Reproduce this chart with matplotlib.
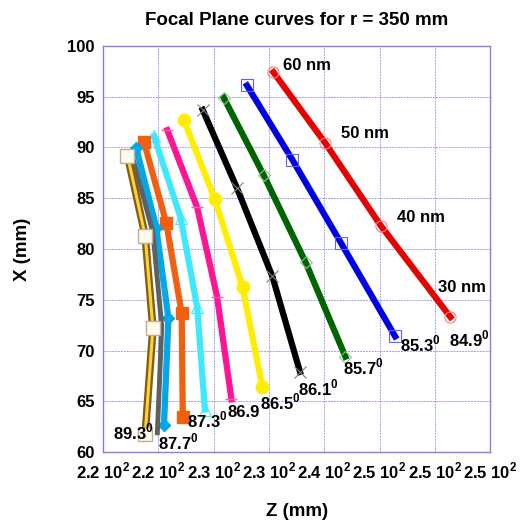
import numpy as np
import matplotlib.pyplot as plt

plt.rcParams['font.family'] = ['Liberation Sans', 'DejaVu Sans']
plt.rcParams['mathtext.fontset'] = 'custom'
plt.rcParams['mathtext.rm'] = 'Liberation Sans:bold'
plt.rcParams['mathtext.bf'] = 'Liberation Sans:bold'

# Z (mm), X (mm) for each curve, top to bottom (60 nm -> 30 nm)
z_849 = [235.4, 240.1, 245.1, 251.4]
x_849 = [97.4, 90.4, 82.3, 73.3]
z_853 = [233.0, 237.1, 241.5, 246.4]
x_853 = [96.1, 88.8, 80.6, 71.4]
z_857 = [230.9, 234.5, 238.3, 241.9]
x_857 = [94.9, 87.3, 78.7, 69.4]
z_861 = [229.0, 232.1, 235.3, 237.8]
x_861 = [93.7, 86.0, 77.3, 67.9]
z_865 = [227.3, 230.1, 232.6, 234.4]
x_865 = [92.7, 84.9, 76.3, 66.4]
z_869 = [225.8, 228.5, 230.3, 231.6]
x_869 = [91.7, 84.1, 75.3, 65.2]
z_873 = [224.6, 227.0, 228.5, 229.2]
x_873 = [91.1, 83.1, 74.3, 64.2]
z_877 = [223.7, 225.7, 227.1, 227.2]
x_877 = [90.5, 82.6, 73.7, 63.5]
z_881 = [223.0, 224.8, 225.9, 225.5]
x_881 = [89.9, 82.1, 73.2, 62.7]
z_885 = [222.6, 224.5, 225.3, 224.9]
x_885 = [89.3, 81.6, 72.4, 61.9]
z_889 = [222.2, 223.8, 224.5, 223.8]
x_889 = [89.2, 81.3, 72.2, 61.8]

wave_labels = ['60 nm', '50 nm', '40 nm', '30 nm']
wave_pos = [(236.3, 98.1), (241.5, 91.4), (246.6, 83.1), (250.3, 76.2)]
angle_labels = ['84.9$^0$', '85.3$^0$', '85.7$^0$', '86.1$^0$', '86.5$^0$',
                '86.9', '87.3$^0$', '87.7$^0$', '89.3$^0$']
angle_pos = [(251.3, 71.1), (246.8, 70.6), (241.7, 68.4), (237.6, 66.3),
             (234.2, 64.9), (231.2, 63.9), (227.6, 63.2), (225.0, 61.0),
             (220.9, 62.0)]

xticks = [220, 225, 230, 235, 240, 245, 250, 255]
xtick_labels = ['2.2 10$^2$', '2.2 10$^2$', '2.3 10$^2$', '2.3 10$^2$',
                '2.4 10$^2$', '2.5 10$^2$', '2.5 10$^2$', '2.5 10$^2$']
yticks = [60, 65, 70, 75, 80, 85, 90, 95, 100]

fig = plt.figure(figsize=(5.21, 5.27), dpi=100)
ax = fig.add_axes([0.198, 0.142, 0.743, 0.771])

lw = 4.5
ax.plot(z_849, x_849, color='#e60000', lw=lw, marker='o', ms=8, mfc='none', mec='#ff8080', mew=0.8)
ax.plot(z_853, x_853, color='#0000e6', lw=lw, marker='s', ms=8, mfc='none', mec='#6060ff', mew=0.8)
ax.plot(z_857, x_857, color='#006400', lw=lw, marker='D', ms=6, mfc='none', mec='#90c090', mew=0.8)
ax.plot(z_861, x_861, color='black', lw=lw, marker='x', ms=9, mec='#808080', mew=0.8)
ax.plot(z_865, x_865, color='#ffee00', lw=lw, marker='o', ms=9, mfc='#ffee00', mec='#ffee00')
ax.plot(z_869, x_869, color='#ff1493', lw=lw, marker='_', ms=9, mec='#ff60b0', mew=1)
ax.plot(z_873, x_873, color='#40e8ff', lw=lw, marker='^', ms=8, mfc='none', mec='#40e8ff', mew=0.8)
ax.plot(z_877, x_877, color='#f06010', lw=lw, marker='s', ms=9, mfc='#f06010', mec='#f06010')
ax.plot(z_881, x_881, color='#00a8e8', lw=lw, marker='D', ms=6, mfc='#00a8e8', mec='#00a8e8')
ax.plot(z_885, x_885, color='#606060', lw=3.5)
ax.plot(z_889, x_889, color='#806010', lw=5.5)
ax.plot(z_889, x_889, color='#ffd040', lw=2.2, marker='s', ms=10, mfc='#fffaf0', mec='#c0b090', mew=1)

for lab, (zz, xx) in zip(wave_labels, wave_pos):
    ax.text(zz, xx, lab, fontsize=12, fontweight='bold', ha='left', va='center')
for lab, (zz, xx) in zip(angle_labels, angle_pos):
    ax.text(zz, xx, lab, fontsize=12, fontweight='bold', ha='left', va='center')

ax.set_xlim(220, 255)
ax.set_ylim(60, 100)
ax.set_xticks(xticks)
ax.set_xticklabels(xtick_labels)
ax.set_yticks(yticks)
ax.tick_params(length=0, labelsize=12, pad=6)
for lab in ax.get_xticklabels() + ax.get_yticklabels():
    lab.set_fontweight('bold')
ax.grid(True, color='#a0a0f0', lw=0.7, ls=(0, (2, 1)))
for s in ax.spines.values():
    s.set_color('#8080e0')
    s.set_linewidth(1)

ax.set_xlabel('Z (mm)', fontsize=13.5, fontweight='bold', labelpad=16)
ax.set_ylabel('X (mm)', fontsize=13.5, fontweight='bold', labelpad=26)
ax.set_title('Focal Plane curves for r = 350 mm', fontsize=13.5, fontweight='bold', pad=15)

plt.savefig('out.png')
